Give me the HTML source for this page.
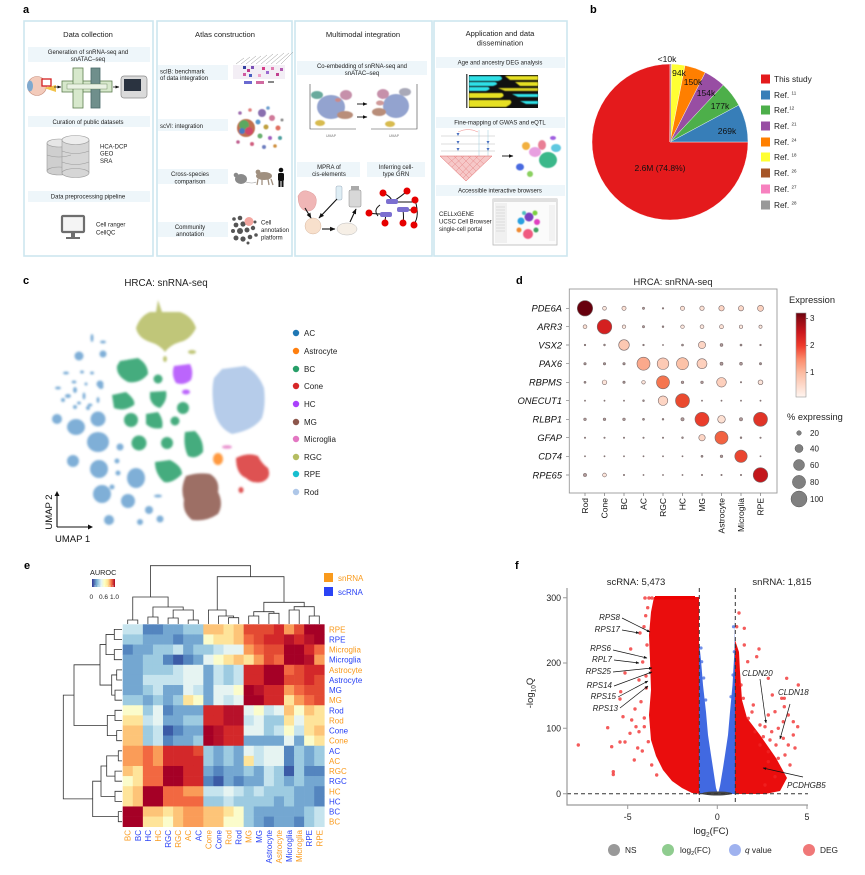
<!DOCTYPE html>
<html><head><meta charset="utf-8">
<style>
html,body{margin:0;padding:0;background:#fff;}
svg{display:block;font-family:"Liberation Sans",Arial,sans-serif;}
#hm .a{fill:#3b5ba6}#hm .b{fill:#5485bf}#hm .c{fill:#74a7d1}#hm .d{fill:#9dcbe1}#hm .e{fill:#c6e4ee}
#hm .f{fill:#e6f4f2}#hm .g{fill:#fbfccb}#hm .h{fill:#fee49a}#hm .i{fill:#fdc478}#hm .j{fill:#fa9c58}
#hm .k{fill:#f26841}#hm .l{fill:#e34a33}#hm .m{fill:#d3282a}#hm .n{fill:#b7112a}#hm .o{fill:#a50026}
.t6{font-size:6px;fill:#222}
.ttl{font-size:7.6px;fill:#222}
</style></head><body>
<svg width="865" height="875" viewBox="0 0 865 875" xmlns="http://www.w3.org/2000/svg">
<defs>
<filter id="bl" x="-30%" y="-30%" width="160%" height="160%"><feGaussianBlur stdDeviation="1.1"/></filter>
<filter id="bls" x="-30%" y="-30%" width="160%" height="160%"><feGaussianBlur stdDeviation="0.5"/></filter>
<linearGradient id="reds" x1="0" y1="1" x2="0" y2="0">
<stop offset="0" stop-color="#fff5f0"/><stop offset="0.29" stop-color="#fcbba1"/><stop offset="0.45" stop-color="#fc8a6a"/><stop offset="0.61" stop-color="#ef3b2c"/><stop offset="0.77" stop-color="#cb181d"/><stop offset="0.94" stop-color="#8b0a14"/><stop offset="1" stop-color="#67000d"/>
</linearGradient>
<linearGradient id="rdyl" x1="0" y1="0" x2="1" y2="0">
<stop offset="0" stop-color="#313695"/><stop offset="0.2" stop-color="#74add1"/><stop offset="0.4" stop-color="#e0f3f8"/><stop offset="0.55" stop-color="#ffffbf"/><stop offset="0.7" stop-color="#fee090"/><stop offset="0.85" stop-color="#f46d43"/><stop offset="1" stop-color="#a50026"/>
</linearGradient>
<marker id="ah" viewBox="0 0 10 10" refX="9" refY="5" markerWidth="5" markerHeight="5" orient="auto"><path d="M0,1 L10,5 L0,9 z" fill="#111"/></marker>
<rect id="s" width="1.03" height="1.03"/>
</defs>

<!-- ================= PANEL A ================= -->
<text x="23" y="13" font-size="11" font-weight="bold" fill="#000">a</text>
<g fill="#fff" stroke="#cde6ef" stroke-width="1.6">
<rect x="24" y="21" width="129" height="235"/>
<rect x="157" y="21" width="135" height="235"/>
<rect x="295" y="21" width="137" height="235"/>
<rect x="434" y="21" width="133" height="235"/>
</g>
<g fill="#eef6fa">
<rect x="28" y="47" width="122" height="15"/><rect x="28" y="116" width="122" height="11"/><rect x="28" y="191" width="122" height="11"/>
<rect x="158" y="65" width="70" height="15"/><rect x="158" y="119" width="70" height="12"/><rect x="158" y="169" width="70" height="15"/><rect x="158" y="222" width="70" height="15"/>
<rect x="297" y="61" width="130" height="14"/><rect x="297" y="162" width="63" height="15"/><rect x="367" y="162" width="58" height="15"/>
<rect x="436" y="57" width="129" height="11"/><rect x="436" y="117" width="129" height="11"/><rect x="436" y="185" width="129" height="11"/>
</g>
<g class="ttl" text-anchor="middle">
<text x="88" y="37" class="ttl">Data collection</text>
<text x="225" y="37" class="ttl">Atlas construction</text>
<text x="363" y="37" class="ttl">Multimodal integration</text>
<text x="500" y="36" class="ttl">Application and data</text>
<text x="500" y="45.5" class="ttl">dissemination</text>
</g>
<g class="t6" text-anchor="middle">
<text x="88" y="54">Generation of snRNA-seq and</text>
<text x="88" y="61">snATAC–seq</text>
<text x="88" y="124">Curation of public datasets</text>
<text x="88" y="198.5">Data preprocessing pipeline</text>
<text x="190" y="176">Cross-species</text>
<text x="190" y="183.5">comparison</text>
<text x="190" y="229">Community</text>
<text x="190" y="236">annotation</text>
<text x="362" y="68">Co-embedding of snRNA-seq and</text>
<text x="362" y="75">snATAC–seq</text>
<text x="329" y="169">MPRA of</text>
<text x="329" y="176">cis-elements</text>
<text x="396" y="169">Inferring cell-</text>
<text x="396" y="176">type GRN</text>
<text x="500" y="64.5">Age and ancestry DEG analysis</text>
<text x="500" y="124.5">Fine-mapping of  GWAS and eQTL</text>
<text x="500" y="192.5">Accessible interactive browsers</text>
</g>
<g class="t6">
<text x="160" y="73.5">scIB: benchmark</text>
<text x="160" y="80">of data integration</text>
<text x="160" y="128">scVI: integration</text>
<text x="100" y="148.5">HCA-DCP</text>
<text x="100" y="155.5">GEO</text>
<text x="100" y="163">SRA</text>
<text x="96" y="226.5">Cell ranger</text>
<text x="96" y="234.5">CellQC</text>
<text x="261" y="224.5">Cell</text>
<text x="261" y="232">annotation</text>
<text x="261" y="239.5">platform</text>
<text x="439" y="216">CELLxGENE</text>
<text x="439" y="223.5">UCSC Cell Browser</text>
<text x="439" y="231">single-cell portal</text>
</g>
<!-- col1 images -->
<circle cx="37" cy="86" r="9.5" fill="#f3cbbb" stroke="#c58a78" stroke-width=".6"/>
<ellipse cx="30" cy="86" rx="3" ry="5.5" fill="#7fa9cf"/>
<path d="M44,88 L56,85 L56,92 Z" fill="#f2c24a"/>
<rect x="42" y="79" width="9" height="7" fill="#fff" stroke="#d42020" stroke-width="1.3"/>
<line x1="54" y1="87" x2="61" y2="87" stroke="#222" stroke-width=".8" marker-end="url(#ah)"/>
<rect x="62" y="81" width="50" height="11" fill="#d7e8cc" stroke="#5d7d4f" stroke-width=".8"/>
<rect x="73" y="68" width="10" height="40" fill="#d7e8cc" stroke="#5d7d4f" stroke-width=".8"/>
<rect x="91" y="68" width="9" height="40" fill="#6f8f8c" stroke="#4a6a6a" stroke-width=".8"/>
<rect x="67" y="84" width="40" height="5" fill="#eaf2e4" stroke="#5d7d4f" stroke-width=".4"/>
<line x1="113" y1="87" x2="119" y2="87" stroke="#222" stroke-width=".8" marker-end="url(#ah)"/>
<rect x="121" y="76" width="26" height="22" rx="3" fill="#dadada" stroke="#8a8a8a" stroke-width=".7"/>
<rect x="124" y="79" width="17" height="12" fill="#2a3340"/>
<g stroke="#9a9a9a" stroke-width=".6">
<rect x="47" y="143" width="24" height="28" fill="#cfcfcf"/><ellipse cx="59" cy="143" rx="12" ry="4" fill="#e6e6e6"/><ellipse cx="59" cy="171" rx="12" ry="4" fill="#cfcfcf"/>
<rect x="62" y="140" width="27" height="33" fill="#d6d6d6"/><ellipse cx="75.5" cy="173" rx="13.5" ry="4.5" fill="#d6d6d6"/><ellipse cx="75.5" cy="140" rx="13.5" ry="4.5" fill="#ededed"/>
<path d="M62,151 Q75.5,156 89,151 M62,162 Q75.5,167 89,162 M47,155 Q59,159 71,155" fill="none"/>
</g>
<rect x="62" y="216" width="22" height="16" rx="1" fill="#f4f4f4" stroke="#6e6e6e" stroke-width="2.2"/>
<rect x="71" y="232" width="4" height="5" fill="#6e6e6e"/><rect x="66" y="237" width="14" height="2" fill="#6e6e6e"/>
<!-- col2 images -->
<g stroke="#999" stroke-width=".5">
<path d="M236,64 l8,-6 M241,64 l9,-7 M246,64 l10,-8 M251,64 l10,-8 M256,64 l11,-9 M261,64 l12,-10 M266,64 l12,-10 M271,64 l13,-11 M276,64 l13,-11 M281,64 l12,-12"/>
</g>
<rect x="233" y="65" width="52" height="14" fill="#f3eef5"/>
<g>
<rect x="243" y="66" width="3" height="3" fill="#3340a0"/><rect x="247" y="69" width="3" height="3" fill="#c03a8c"/><rect x="251" y="66" width="3" height="3" fill="#7a4fb5"/>
<rect x="243" y="73" width="3" height="3" fill="#d05aa0"/><rect x="249" y="74" width="3" height="3" fill="#4a60c0"/><rect x="262" y="67" width="3" height="3" fill="#d43c86"/>
<rect x="266" y="71" width="3" height="3" fill="#9a6ad0"/><rect x="271" y="67" width="3" height="3" fill="#e07ab0"/><rect x="276" y="73" width="3" height="3" fill="#c24090"/>
<rect x="258" y="74" width="3" height="3" fill="#f0a0c8"/><rect x="280" y="68" width="3" height="3" fill="#b05ab0"/>
</g>
<rect x="244" y="81" width="8" height="3" fill="#6a6ad0"/><rect x="256" y="81" width="8" height="3" fill="#d06aa0"/><rect x="268" y="81" width="6" height="2" fill="#888"/>
<g filter="url(#bls)">
<circle cx="246" cy="128" r="9" fill="#c07050"/><circle cx="244" cy="125" r="5" fill="#5aa860"/><circle cx="249" cy="131" r="4" fill="#d04a6a"/><circle cx="242" cy="131" r="3" fill="#4a7ac0"/>
<circle cx="262" cy="113" r="4" fill="#8a70b0"/><circle cx="272" cy="118" r="3" fill="#d07a9a"/><circle cx="258" cy="122" r="2.5" fill="#5a9ad0"/><circle cx="266" cy="127" r="2.5" fill="#c0a040"/>
<circle cx="278" cy="128" r="2.5" fill="#e07060"/><circle cx="260" cy="136" r="2.5" fill="#6ab070"/><circle cx="270" cy="138" r="2" fill="#a060c0"/><circle cx="280" cy="138" r="2" fill="#50a0a0"/>
<circle cx="252" cy="144" r="2" fill="#d06080"/><circle cx="264" cy="147" r="2" fill="#7080c0"/><circle cx="275" cy="146" r="1.8" fill="#d09040"/><circle cx="240" cy="113" r="1.8" fill="#a070b0"/>
<circle cx="250" cy="110" r="1.8" fill="#e08080"/><circle cx="268" cy="108" r="1.8" fill="#70a0d0"/><circle cx="238" cy="142" r="1.8" fill="#c06090"/><circle cx="282" cy="120" r="1.5" fill="#8a8a8a"/>
</g>
<g fill="#8a8a8a">
<ellipse cx="241" cy="179" rx="6" ry="5"/><circle cx="236" cy="175" r="2.3"/><path d="M246,182 Q252,184 256,182" stroke="#9a9a9a" stroke-width=".6" fill="none"/>
<ellipse cx="264" cy="176" rx="8" ry="4" fill="#a09080"/><circle cx="258" cy="172" r="2.4" fill="#a09080"/><path d="M258,179 l-1,6 M262,179 l0,6 M268,179 l1,6 M271,179 l2,6" stroke="#a09080" stroke-width="1.3"/>
</g>
<g fill="#111"><circle cx="281" cy="170" r="2.3"/><rect x="278" y="173" width="6" height="8" rx="1.5"/><rect x="278.5" y="180" width="2" height="7"/><rect x="281.5" y="180" width="2" height="7"/></g>
<g fill="#555">
<circle cx="234" cy="219" r="1.8"/><circle cx="240" cy="218" r="2.3"/><circle cx="236" cy="225" r="2.4"/><circle cx="243" cy="224" r="2.6"/><circle cx="233" cy="231" r="2"/>
<circle cx="240" cy="231" r="3"/><circle cx="247" cy="230" r="2.5"/><circle cx="253" cy="228" r="2.2"/><circle cx="236" cy="238" r="2.5"/><circle cx="243" cy="239" r="2.6"/>
<circle cx="250" cy="237" r="2.3"/><circle cx="256" cy="235" r="1.8"/><circle cx="255" cy="222" r="1.5"/><circle cx="248" cy="243" r="1.5"/>
</g>
<circle cx="249" cy="221.5" r="4.5" fill="#f3a6a0"/>
<!-- col3 images -->
<g stroke="#444" stroke-width=".6" fill="none"><path d="M310,84 V129 H356"/><path d="M417,84 V129 H371"/></g>
<g filter="url(#bls)">
<ellipse cx="331" cy="107" rx="14" ry="12" fill="#93a3cf"/><ellipse cx="317" cy="95" rx="6" ry="4" fill="#6aaa9d"/><ellipse cx="346" cy="95" rx="6" ry="5" fill="#c690aa"/>
<ellipse cx="345" cy="115" rx="8" ry="4" fill="#b98e7a"/><ellipse cx="320" cy="123" rx="5" ry="3" fill="#d8bb50"/><ellipse cx="338" cy="100" rx="3" ry="2" fill="#c98a8a"/>
<ellipse cx="396" cy="106" rx="13" ry="12" fill="#93a3cf"/><ellipse cx="383" cy="94" rx="6" ry="5" fill="#c690aa"/><ellipse cx="405" cy="92" rx="6" ry="4" fill="#a9a9b8"/>
<ellipse cx="379" cy="112" rx="7" ry="4" fill="#b98e7a"/><ellipse cx="390" cy="124" rx="5" ry="3" fill="#d8bb50"/><ellipse cx="380" cy="103" rx="4" ry="2.5" fill="#d09a9a"/>
</g>
<line x1="357" y1="104" x2="367" y2="104" stroke="#111" stroke-width=".9" marker-end="url(#ah)"/>
<line x1="357" y1="117" x2="367" y2="117" stroke="#111" stroke-width=".9" marker-end="url(#ah)"/>
<text x="331" y="137" font-size="3.5" fill="#777" text-anchor="middle">UMAP</text><text x="394" y="137" font-size="3.5" fill="#777" text-anchor="middle">UMAP</text>
<path d="M298,196 q4,-8 12,-4 q8,3 6,12 q-2,8 -10,7 q-8,-2 -8,-15z" fill="#f0b6b6" stroke="#d89090" stroke-width=".4"/>
<circle cx="313" cy="226" r="8" fill="#f8e0cc" stroke="#d8b8a0" stroke-width=".5"/>
<rect x="336" y="186" width="6" height="14" rx="1.5" fill="#dfeef5" stroke="#9ab" stroke-width=".5"/>
<rect x="349" y="190" width="12" height="17" rx="1.5" fill="#d8d8d8" stroke="#888" stroke-width=".5"/><rect x="351" y="186" width="8" height="4" fill="#aaa"/>
<ellipse cx="347" cy="229" rx="10" ry="6" fill="#f6efe6" stroke="#bbb" stroke-width=".5"/>
<g stroke="#111" stroke-width="1.1" marker-end="url(#ah)">
<line x1="305" y1="208" x2="311" y2="218"/><line x1="337" y1="199" x2="319" y2="218"/><line x1="322" y1="229" x2="335" y2="229"/><line x1="350" y1="222" x2="356" y2="209"/>
</g>
<g fill="none" stroke="#111" stroke-width="1">
<path d="M383,193 Q392,197 392,202"/><path d="M392,202 Q402,196 407,191"/><path d="M392,202 H413"/><path d="M403,210 L414,210"/><path d="M386,214 Q372,214 369,213"/>
<path d="M386,214 Q385,220 385,223"/><path d="M403,210 Q404,218 403,223"/><path d="M414,224 Q420,216 415,200"/><path d="M380,205 Q373,210 378,216"/>
</g>
<g fill="#e60000"><circle cx="383" cy="193" r="3.5"/><circle cx="407" cy="191" r="3.5"/><circle cx="415" cy="200" r="3.5"/><circle cx="414" cy="210" r="3.5"/><circle cx="369" cy="213" r="3.5"/><circle cx="385" cy="223" r="3.5"/><circle cx="403" cy="223" r="3.5"/><circle cx="414" cy="225" r="3.5"/></g>
<g fill="#7b6fd0"><rect x="386" y="199" width="12" height="5" rx="2"/><rect x="397" y="207" width="12" height="5" rx="2"/><rect x="380" y="212" width="12" height="5" rx="2"/></g>
<!-- col4 images -->
<rect x="466" y="74" width="1.5" height="34" fill="#555"/>
<rect x="469" y="75" width="69" height="33" fill="#111"/>
<g filter="url(#bls)">
<path d="M469,76 H500 Q505,79 498,81 H469Z" fill="#2ee0e6"/><path d="M505,76 H538 V80 H510Z" fill="#e6e020"/>
<path d="M469,82 H495 Q500,84 493,86 H469Z" fill="#2ee0e6"/><path d="M515,82 H538 V86 H520Z" fill="#e6e020"/>
<path d="M469,87 H488 Q492,89 486,91 H469Z" fill="#2ee0e6"/><path d="M498,88 H538 V91 H505Z" fill="#d8d020"/>
<path d="M469,93 H502 Q506,96 500,98 H469Z" fill="#e6e020"/><path d="M512,94 H538 V97 H518Z" fill="#2ee0e6"/>
<path d="M469,100 H510 Q514,103 506,107 H469Z" fill="#e6e020"/><path d="M520,101 H538 V104 H526Z" fill="#2ee0e6"/>
</g>
<g stroke="#bbb" stroke-width=".5"><line x1="441" y1="136" x2="495" y2="136"/><line x1="441" y1="144" x2="495" y2="144"/><line x1="441" y1="151" x2="495" y2="151"/><line x1="479" y1="130" x2="479" y2="156" stroke="#9cd"/><line x1="488" y1="130" x2="488" y2="156" stroke="#9cd"/></g>
<path d="M458,132 Q468,127 478,132" fill="none" stroke="#e88" stroke-width=".5"/>
<g fill="#4a70c0"><path d="M458,136 l-1.5,-3 h3z"/><path d="M458,144 l-1.5,-3 h3z"/><path d="M458,151 l-1.5,-3 h3z"/><path d="M488,144 l-1.5,-3 h3z"/><path d="M488,151 l-1.5,-3 h3z"/></g>
<path d="M440,156 H492 L466,181 Z" fill="#f6c8c8" stroke="#e06060" stroke-width=".5"/>
<g stroke="#e07070" stroke-width=".35"><path d="M447,156 L469,178 M454,156 L472,175 M461,156 L476,171 M468,156 L480,167 M475,156 L484,164 M485,156 L463,178 M478,156 L460,175 M471,156 L456,171 M464,156 L452,167 M457,156 L448,164"/></g>
<line x1="502" y1="156" x2="513" y2="156" stroke="#111" stroke-width=".9" marker-end="url(#ah)"/>
<g filter="url(#bls)">
<ellipse cx="526" cy="146" rx="4" ry="4" fill="#f2b040"/><ellipse cx="535" cy="152" rx="6" ry="5" fill="#e8a0e0"/><ellipse cx="520" cy="167" rx="4" ry="3.5" fill="#4a6ae0"/>
<ellipse cx="548" cy="160" rx="9" ry="8" fill="#3ab88a"/><ellipse cx="556" cy="148" rx="5" ry="4" fill="#60c8e0"/><ellipse cx="553" cy="138" rx="3" ry="2" fill="#a060e0"/><ellipse cx="530" cy="174" rx="3" ry="3" fill="#8ad060"/><ellipse cx="542" cy="145" rx="4" ry="5" fill="#e04a6a" opacity=".7"/>
</g>
<rect x="493" y="199" width="64" height="46" fill="#fbfbfb" stroke="#b8b8b8" stroke-width=".8"/>
<rect x="493" y="199" width="64" height="3" fill="#e0e0e0"/><rect x="495" y="203" width="12" height="40" fill="#f0f0f0"/>
<g stroke="#c8c8c8" stroke-width=".5"><path d="M496,207h9M496,210h9M496,213h9M496,216h9M496,219h9M496,222h9M496,225h9M496,228h9M496,231h9"/></g>
<rect x="549" y="205" width="6" height="36" fill="#f2f2f2"/>
<g filter="url(#bls)">
<circle cx="521" cy="221" r="3.5" fill="#2aa0e0"/><circle cx="529" cy="217" r="4.5" fill="#7a40c0"/><circle cx="535" cy="213" r="2.5" fill="#7ad040"/><circle cx="537" cy="222" r="3" fill="#e040c0"/>
<circle cx="524" cy="213" r="2" fill="#50c0c0"/><circle cx="528" cy="234" r="5" fill="#f05a80"/><circle cx="519" cy="230" r="2.5" fill="#f08a30"/><circle cx="536" cy="230" r="2.5" fill="#40a060"/>
</g>

<!-- ================= PANEL B ================= -->
<text x="590" y="13" font-size="11" font-weight="bold" fill="#000">b</text>
<g stroke="#fff" stroke-width=".4">
<path d="M670,142 L748,142 A78,78 0 1 1 670,64 Z" fill="#e41a1c"/>
<path d="M670,142 L670,64 A78,78 0 0 1 670.54,64 Z" fill="#999999"/>
<path d="M670,142 L670.54,64 A78,78 0 0 1 671.09,64 Z" fill="#f781bf"/>
<path d="M670,142 L671.09,64 A78,78 0 0 1 671.63,64 Z" fill="#a65628"/>
<path d="M670,142 L671.63,64 A78,78 0 0 1 685.02,65.46 Z" fill="#ffff33"/>
<path d="M670,142 L685.02,65.46 A78,78 0 0 1 705.29,72.44 Z" fill="#ff7f00"/>
<path d="M670,142 L705.29,72.44 A78,78 0 0 1 723.3,85.05 Z" fill="#984ea3"/>
<path d="M670,142 L723.3,85.05 A78,78 0 0 1 738.74,105.14 Z" fill="#4daf4a"/>
<path d="M670,142 L738.74,105.14 A78,78 0 0 1 748,142 Z" fill="#377eb8"/>
</g>
<line x1="670.5" y1="64" x2="670.5" y2="142" stroke="#9a8aaa" stroke-width=".8"/>
<g font-size="8.5" fill="#111" text-anchor="middle">
<text x="667" y="62">&lt;10k</text>
<text x="679" y="76">94k</text>
<text x="693" y="85">150k</text>
<text x="706" y="96">154k</text>
<text x="720" y="109">177k</text>
<text x="727" y="134">269k</text>
<text x="660" y="171">2.6M (74.8%)</text>
</g>
<g>
<rect x="761" y="74.5" width="9" height="9" fill="#e41a1c"/>
<rect x="761" y="90.5" width="9" height="9" fill="#377eb8"/>
<rect x="761" y="105.5" width="9" height="9" fill="#4daf4a"/>
<rect x="761" y="121.5" width="9" height="9" fill="#984ea3"/>
<rect x="761" y="137.5" width="9" height="9" fill="#ff7f00"/>
<rect x="761" y="152.5" width="9" height="9" fill="#ffff33"/>
<rect x="761" y="168.5" width="9" height="9" fill="#a65628"/>
<rect x="761" y="184.5" width="9" height="9" fill="#f781bf"/>
<rect x="761" y="200.5" width="9" height="9" fill="#999999"/>
</g>
<g font-size="8.3" fill="#222">
<text x="774" y="82">This study</text>
<text x="774" y="98">Ref. <tspan font-size="4.5" dy="-3.5">11</tspan></text>
<text x="774" y="113">Ref.<tspan font-size="4.5" dy="-3.5">12</tspan></text>
<text x="774" y="129">Ref. <tspan font-size="4.5" dy="-3.5">21</tspan></text>
<text x="774" y="145">Ref. <tspan font-size="4.5" dy="-3.5">24</tspan></text>
<text x="774" y="160">Ref. <tspan font-size="4.5" dy="-3.5">18</tspan></text>
<text x="774" y="176">Ref. <tspan font-size="4.5" dy="-3.5">26</tspan></text>
<text x="774" y="192">Ref. <tspan font-size="4.5" dy="-3.5">27</tspan></text>
<text x="774" y="208">Ref. <tspan font-size="4.5" dy="-3.5">28</tspan></text>
</g>

<!-- ================= PANEL C ================= -->
<text x="23" y="284" font-size="11" font-weight="bold" fill="#000">c</text>
<text x="166" y="286" font-size="9.8" fill="#222" text-anchor="middle">HRCA: snRNA-seq</text>
<g filter="url(#bl)">
<!-- RGC -->
<g fill="#b5bd61" opacity=".85">
<path d="M158,300 L162,312 L172,312 L180,312 Q192,316 196,328 Q190,340 180,342 Q170,345 165,352 Q160,345 150,342 Q138,338 136,328 Q140,316 150,312 L156,312 Z"/>
<ellipse cx="192" cy="352" rx="4" ry="2"/><ellipse cx="165" cy="359" rx="2" ry="3"/>
</g>
<!-- Rod -->
<path d="M222,369 L245,366 Q258,372 264,388 Q266,405 262,418 Q254,430 232,434 Q218,428 214,410 Q211,390 214,378 Z" fill="#aec7e8" opacity=".9"/>
<!-- HC -->
<g fill="#aa40fc" opacity=".8"><path d="M174,366 L190,364 Q194,372 191,380 Q184,386 176,383 Q171,375 174,366Z"/><ellipse cx="186" cy="392" rx="4" ry="2.5"/></g>
<!-- BC -->
<g fill="#279e68" opacity=".85">
<path d="M120,361 L138,358 Q148,364 148,374 Q140,384 128,382 Q116,376 117,366Z"/>
<circle cx="158" cy="379" r="4.5"/>
<path d="M112,395 L126,392 Q136,400 134,405 Q124,412 114,408Z"/>
<path d="M150,392 L166,391 Q168,400 160,408 Q152,406 150,398Z"/>
<circle cx="183" cy="408" r="6"/>
<circle cx="131" cy="420" r="7"/>
<path d="M146,414 L158,412 Q164,420 162,428 Q152,430 146,424Z"/>
<circle cx="175" cy="421" r="4.5"/>
<circle cx="139" cy="443" r="7.5"/>
<circle cx="167" cy="443" r="6"/>
<path d="M185,432 L195,431 Q204,440 203,452 Q196,460 188,456 Q183,446 185,432Z"/>
<path d="M155,462 L170,460 Q182,466 182,474 Q172,484 164,482 Q155,474 155,462Z"/>
</g>
<!-- AC -->
<g fill="#3a85c2" opacity=".65">
<circle cx="57" cy="419" r="5"/><ellipse cx="76" cy="427" rx="9" ry="8"/><circle cx="98" cy="419" r="7.5"/><ellipse cx="98" cy="442" rx="11" ry="10"/>
<circle cx="73" cy="461" r="6"/><ellipse cx="99" cy="469" rx="9" ry="9"/><circle cx="102" cy="494" r="9"/><ellipse cx="136" cy="478" rx="9" ry="10"/>
<circle cx="128" cy="501" r="7"/><circle cx="109" cy="520" r="5"/><circle cx="149" cy="510" r="4"/><circle cx="160" cy="519" r="3.5"/><circle cx="140" cy="522" r="3"/>
<ellipse cx="158" cy="496" rx="4" ry="1.5"/><circle cx="120" cy="447" r="3.5"/><circle cx="117" cy="461" r="2.5"/><circle cx="79" cy="356" r="4.5"/><circle cx="103" cy="354" r="3.5"/>
<circle cx="100" cy="384" r="3.5"/><ellipse cx="92" cy="338" rx="1.5" ry="4"/><ellipse cx="103" cy="342" rx="3" ry="1.5"/><ellipse cx="66" cy="373" rx="3" ry="1.5"/>
<ellipse cx="58" cy="388" rx="3" ry="1.5"/><ellipse cx="68" cy="396" rx="3" ry="2"/><ellipse cx="75" cy="390" rx="2" ry="3"/><ellipse cx="84" cy="396" rx="1.5" ry="3.5"/>
<ellipse cx="82" cy="372" rx="2" ry="1.5"/><ellipse cx="92" cy="373" rx="2" ry="1.5"/><ellipse cx="74" cy="382" rx="2.5" ry="1.5"/><ellipse cx="79" cy="403" rx="2" ry="1.5"/>
<ellipse cx="90" cy="405" rx="2.5" ry="1.5"/><ellipse cx="98" cy="400" rx="1.5" ry="3"/><ellipse cx="101" cy="387" rx="2.5" ry="2"/><ellipse cx="75" cy="407" rx="2" ry="2"/>
<circle cx="112" cy="487" r="2.5"/><circle cx="118" cy="473" r="2.5"/><circle cx="88" cy="408" r="2"/><circle cx="63" cy="400" r="2"/><circle cx="86" cy="384" r="1.5"/>
</g>
<!-- MG -->
<path d="M186,476 Q198,472 210,474 Q220,480 218,492 Q224,504 218,514 Q206,522 192,520 Q182,512 184,500 Q180,488 186,476Z" fill="#8c564b" opacity=".85"/>
<!-- Cone -->
<g fill="#d62728" opacity=".8"><path d="M236,458 Q248,452 258,456 Q262,464 268,468 Q272,478 262,482 Q252,484 246,478 Q236,474 236,458Z"/><ellipse cx="241" cy="490" rx="2.5" ry="3"/></g>
<!-- Astro, Microglia -->
<ellipse cx="218" cy="459" rx="5" ry="6" fill="#ff7f0e" opacity=".8"/>
<ellipse cx="227" cy="447" rx="5" ry="1.8" fill="#e377c2" opacity=".8"/>
</g>
<g stroke="#111" stroke-width="1.1" fill="none"><path d="M57,527 V495"/><path d="M57,527 H89"/></g>
<path d="M57,491 l-2.5,5 h5z M93,527 l-5,-2.5 v5z" fill="#111"/>
<text x="52" y="512" font-size="9.5" fill="#111" text-anchor="middle" transform="rotate(-90 52 512)">UMAP 2</text>
<text x="55" y="542" font-size="9.5" fill="#111">UMAP 1</text>
<g font-size="8" fill="#222">
<circle cx="296" cy="333" r="3.2" fill="#1f77b4"/><text x="304" y="336">AC</text>
<circle cx="296" cy="351" r="3.2" fill="#ff7f0e"/><text x="304" y="354">Astrocyte</text>
<circle cx="296" cy="369" r="3.2" fill="#279e68"/><text x="304" y="372">BC</text>
<circle cx="296" cy="386" r="3.2" fill="#d62728"/><text x="304" y="389">Cone</text>
<circle cx="296" cy="404" r="3.2" fill="#aa40fc"/><text x="304" y="407">HC</text>
<circle cx="296" cy="422" r="3.2" fill="#8c564b"/><text x="304" y="425">MG</text>
<circle cx="296" cy="439" r="3.2" fill="#e377c2"/><text x="304" y="442">Microglia</text>
<circle cx="296" cy="457" r="3.2" fill="#b5bd61"/><text x="304" y="460">RGC</text>
<circle cx="296" cy="474" r="3.2" fill="#17becf"/><text x="304" y="477">RPE</text>
<circle cx="296" cy="492" r="3.2" fill="#aec7e8"/><text x="304" y="495">Rod</text>
</g>

<!-- ================= PANEL D ================= -->
<text x="516" y="284" font-size="11" font-weight="bold" fill="#000">d</text>
<text x="673" y="285" font-size="9.3" fill="#222" text-anchor="middle">HRCA: snRNA-seq</text>
<rect x="569.3" y="289" width="207.7" height="204" fill="#fff" stroke="#9a9a9a" stroke-width=".9"/>
<g stroke="#777" stroke-width=".7">
<path d="M566,308.3h3M566,326.7h3M566,345h3M566,363.7h3M566,382.3h3M566,400.7h3M566,419.3h3M566,437.7h3M566,456.3h3M566,475h3"/>
<path d="M585,493v3M604.5,493v3M624,493v3M643.5,493v3M663,493v3M682.5,493v3M702,493v3M721.5,493v3M741,493v3M760.5,493v3"/>
</g>
<g font-size="9.3" font-style="italic" fill="#111" text-anchor="end">
<text x="562" y="311.5">PDE6A</text><text x="562" y="330">ARR3</text><text x="562" y="348.3">VSX2</text><text x="562" y="367">PAX6</text>
<text x="562" y="385.6">RBPMS</text><text x="562" y="404">ONECUT1</text><text x="562" y="422.6">RLBP1</text><text x="562" y="441">GFAP</text>
<text x="562" y="459.6">CD74</text><text x="562" y="478.3">RPE65</text>
</g>
<g font-size="8.5" fill="#111" text-anchor="end">
<text transform="translate(588,498) rotate(-90)">Rod</text>
<text transform="translate(607.5,498) rotate(-90)">Cone</text>
<text transform="translate(627,498) rotate(-90)">BC</text>
<text transform="translate(646.5,498) rotate(-90)">AC</text>
<text transform="translate(666,498) rotate(-90)">RGC</text>
<text transform="translate(685.5,498) rotate(-90)">HC</text>
<text transform="translate(705,498) rotate(-90)">MG</text>
<text transform="translate(724.5,498) rotate(-90)">Astrocyte</text>
<text transform="translate(744,498) rotate(-90)">Microglia</text>
<text transform="translate(763.5,498) rotate(-90)">RPE</text>
</g>
<g stroke="#7a6a6a" stroke-width=".6">
<!-- PDE6A y308.3 -->
<circle cx="585" cy="308.3" r="7.7" fill="#67000d"/><circle cx="604.5" cy="308.3" r="1.9" fill="#fde8de"/><circle cx="624" cy="308.3" r="2.1" fill="#fde2d5"/><circle cx="643.5" cy="308.3" r="1.1" fill="#b09a9a"/><circle cx="663" cy="308.3" r=".8" fill="#a09090"/><circle cx="682.5" cy="308.3" r="2.1" fill="#fde2d5"/><circle cx="702" cy="308.3" r="2.2" fill="#fde2d5"/><circle cx="721.5" cy="308.3" r="2.7" fill="#fdd5c4"/><circle cx="741" cy="308.3" r="2.6" fill="#fdd9c9"/><circle cx="760.5" cy="308.3" r="3" fill="#fcd2bf"/>
<!-- ARR3 -->
<circle cx="585" cy="326.7" r="1.9" fill="#fde2d5"/><circle cx="604.5" cy="326.7" r="7.3" fill="#d42020"/><circle cx="624" cy="326.7" r="1.8" fill="#fde8de"/><circle cx="643.5" cy="326.7" r="1.1" fill="#b09a9a"/><circle cx="663" cy="326.7" r=".9" fill="#a09090"/><circle cx="682.5" cy="326.7" r="1.8" fill="#fde8de"/><circle cx="702" cy="326.7" r="1.9" fill="#fde8de"/><circle cx="721.5" cy="326.7" r="2" fill="#fde2d5"/><circle cx="741" cy="326.7" r="1.7" fill="#fde8de"/><circle cx="760.5" cy="326.7" r="1.6" fill="#fde8de"/>
<!-- VSX2 -->
<circle cx="585" cy="345" r=".8" fill="#a09090"/><circle cx="604.5" cy="345" r=".9" fill="#a09090"/><circle cx="624" cy="345" r="5.3" fill="#fcc8b2"/><circle cx="643.5" cy="345" r=".8" fill="#a09090"/><circle cx="663" cy="345" r=".6" fill="#a09090"/><circle cx="682.5" cy="345" r="1" fill="#a09090"/><circle cx="702" cy="345" r="3.6" fill="#fdd5c4"/><circle cx="721.5" cy="345" r="1.4" fill="#b09a9a"/><circle cx="741" cy="345" r="1" fill="#a09090"/><circle cx="760.5" cy="345" r=".8" fill="#a09090"/>
<!-- PAX6 -->
<circle cx="585" cy="363.7" r="1.2" fill="#a09090"/><circle cx="604.5" cy="363.7" r="1.2" fill="#a09090"/><circle cx="624" cy="363.7" r="1.2" fill="#a09090"/><circle cx="643.5" cy="363.7" r="6.5" fill="#fba98c"/><circle cx="663" cy="363.7" r="5.8" fill="#fdcab5"/><circle cx="682.5" cy="363.7" r="6" fill="#fcc2a8"/><circle cx="702" cy="363.7" r="5" fill="#fdd0bd"/><circle cx="721.5" cy="363.7" r="1.5" fill="#b09a9a"/><circle cx="741" cy="363.7" r="1.4" fill="#b09a9a"/><circle cx="760.5" cy="363.7" r="1.1" fill="#a09090"/>
<!-- RBPMS -->
<circle cx="585" cy="382.3" r="1" fill="#a09090"/><circle cx="604.5" cy="382.3" r="2.3" fill="#fde5da"/><circle cx="624" cy="382.3" r="1.2" fill="#a09090"/><circle cx="643.5" cy="382.3" r="1.8" fill="#fde5da"/><circle cx="663" cy="382.3" r="6.5" fill="#f5754f"/><circle cx="682.5" cy="382.3" r="1.3" fill="#b09a9a"/><circle cx="702" cy="382.3" r="1.3" fill="#b09a9a"/><circle cx="721.5" cy="382.3" r="4.8" fill="#fdd0bd"/><circle cx="741" cy="382.3" r=".7" fill="#a09090"/><circle cx="760.5" cy="382.3" r="2.4" fill="#fde5da"/>
<!-- ONECUT1 -->
<circle cx="585" cy="400.7" r=".6" fill="#a09090"/><circle cx="604.5" cy="400.7" r=".6" fill="#a09090"/><circle cx="624" cy="400.7" r=".6" fill="#a09090"/><circle cx="643.5" cy="400.7" r=".9" fill="#a09090"/><circle cx="663" cy="400.7" r="4.8" fill="#fdd5c4"/><circle cx="682.5" cy="400.7" r="7" fill="#ea4a2f"/><circle cx="702" cy="400.7" r=".6" fill="#a09090"/><circle cx="721.5" cy="400.7" r=".6" fill="#a09090"/><circle cx="741" cy="400.7" r=".6" fill="#a09090"/><circle cx="760.5" cy="400.7" r=".6" fill="#a09090"/>
<!-- RLBP1 -->
<circle cx="585" cy="419.3" r="1.3" fill="#b09a9a"/><circle cx="604.5" cy="419.3" r="1.3" fill="#b09a9a"/><circle cx="624" cy="419.3" r="1.3" fill="#b09a9a"/><circle cx="643.5" cy="419.3" r="1" fill="#a09090"/><circle cx="663" cy="419.3" r=".9" fill="#a09090"/><circle cx="682.5" cy="419.3" r="1.6" fill="#b09a9a"/><circle cx="702" cy="419.3" r="7" fill="#ea3d2b"/><circle cx="721.5" cy="419.3" r="3.8" fill="#fde0d2"/><circle cx="741" cy="419.3" r="1.6" fill="#b09a9a"/><circle cx="760.5" cy="419.3" r="7" fill="#e03427"/>
<!-- GFAP -->
<circle cx="585" cy="437.7" r=".7" fill="#a09090"/><circle cx="604.5" cy="437.7" r=".7" fill="#a09090"/><circle cx="624" cy="437.7" r=".7" fill="#a09090"/><circle cx="643.5" cy="437.7" r=".7" fill="#a09090"/><circle cx="663" cy="437.7" r=".7" fill="#a09090"/><circle cx="682.5" cy="437.7" r=".9" fill="#a09090"/><circle cx="702" cy="437.7" r="3.2" fill="#fdd5c4"/><circle cx="721.5" cy="437.7" r="6.5" fill="#f26241"/><circle cx="741" cy="437.7" r=".9" fill="#a09090"/><circle cx="760.5" cy="437.7" r=".7" fill="#a09090"/>
<!-- CD74 -->
<circle cx="585" cy="456.3" r=".6" fill="#a09090"/><circle cx="604.5" cy="456.3" r=".6" fill="#a09090"/><circle cx="624" cy="456.3" r=".6" fill="#a09090"/><circle cx="643.5" cy="456.3" r=".6" fill="#a09090"/><circle cx="663" cy="456.3" r=".6" fill="#a09090"/><circle cx="682.5" cy="456.3" r=".6" fill="#a09090"/><circle cx="702" cy="456.3" r="1" fill="#a09090"/><circle cx="721.5" cy="456.3" r="1.3" fill="#b09a9a"/><circle cx="741" cy="456.3" r="6.2" fill="#ea4530"/><circle cx="760.5" cy="456.3" r=".6" fill="#a09090"/>
<!-- RPE65 -->
<circle cx="585" cy="475" r="1.6" fill="#b09a9a"/><circle cx="604.5" cy="475" r="1.9" fill="#fde5da"/><circle cx="624" cy="475" r=".7" fill="#a09090"/><circle cx="643.5" cy="475" r=".6" fill="#a09090"/><circle cx="663" cy="475" r=".6" fill="#a09090"/><circle cx="682.5" cy="475" r=".6" fill="#a09090"/><circle cx="702" cy="475" r=".7" fill="#a09090"/><circle cx="721.5" cy="475" r=".7" fill="#a09090"/><circle cx="741" cy="475" r=".7" fill="#a09090"/><circle cx="760.5" cy="475" r="7.3" fill="#c3161b"/>
</g>
<text x="789" y="303" font-size="9.3" fill="#222">Expression</text>
<rect x="796" y="313" width="10" height="84" fill="url(#reds)" stroke="#999" stroke-width=".6"/>
<g stroke="#333" stroke-width=".6"><path d="M806,318.4h2M806,345.5h2M806,372.6h2"/></g>
<g font-size="8" fill="#222"><text x="810" y="321">3</text><text x="810" y="348">2</text><text x="810" y="375">1</text></g>
<text x="787" y="420" font-size="9.3" fill="#222">% expressing</text>
<g fill="#808080" stroke="#555" stroke-width=".5">
<circle cx="799" cy="433" r="2.3"/><circle cx="799" cy="448.5" r="4"/><circle cx="799" cy="465" r="5.5"/><circle cx="799" cy="482" r="6.6"/><circle cx="799" cy="499" r="8"/>
</g>
<g font-size="8" fill="#222"><text x="810" y="436">20</text><text x="810" y="451.5">40</text><text x="810" y="468">60</text><text x="810" y="485">80</text><text x="810" y="502">100</text></g>

<!-- ================= PANEL E ================= -->
<text x="24" y="569" font-size="11" font-weight="bold" fill="#000">e</text>
<text x="90" y="575" font-size="7.3" fill="#222">AUROC</text>
<rect x="92" y="579" width="23" height="8" fill="url(#rdyl)"/>
<g stroke="#fff" stroke-width=".4"><path d="M95,585v2M98,585v2M101,585v2M104,585v2M107,585v2M110,585v2M113,585v2"/></g>
<g font-size="6.5" fill="#222"><text x="89.5" y="599">0</text><text x="99" y="599">0.6</text><text x="110" y="599">1.0</text></g>
<rect x="324" y="573" width="9" height="9" fill="#f99a1c"/><text x="338" y="581" font-size="8" fill="#f99a1c">snRNA</text>
<rect x="324" y="587" width="9" height="9" fill="#2a43f5"/><text x="338" y="595" font-size="8" fill="#2a43f5">scRNA</text>
<g fill="none" stroke="#333" stroke-width=".8">
<!-- top dendrogram -->
<path d="M127.7,624V620H137.8V624"/><path d="M147.9,624V617H158V624"/><path d="M168.1,624V618H178.2V624"/><path d="M188.2,624V620H198.3V624"/>
<path d="M173.15,618V610H193.25V620"/><path d="M152.95,617V607H183.2V610"/><path d="M132.75,620V597H168.1V607"/>
<path d="M228.6,624V617.7H238.7V624"/><path d="M218.5,624V616H233.65V617.7"/><path d="M208.4,624V610H226.1V616"/>
<path d="M248.7,624V616H258.8V624"/><path d="M268.9,624V613.3H279V624"/><path d="M253.75,616V611.7H273.95V613.3"/>
<path d="M289.1,624V610H299.2V624"/><path d="M309.2,624V616H319.3V624"/><path d="M294.15,610V606.7H314.25V616"/><path d="M263.85,611.7V602.3H304.2V606.7"/>
<path d="M217.25,610V576.7H284V602.3"/><path d="M150.4,597V565.7H250.6V576.7"/>
<!-- left dendrogram -->
<path d="M122,629.4H114.3V639.5H122"/><path d="M122,649.6H114.3V659.7H122"/><path d="M114.3,634.45H106V654.65H114.3"/>
<path d="M122,669.9H116.7V680H122"/><path d="M122,690.1H115V700.2H122"/><path d="M116.7,674.95H111.7V695.15H115"/><path d="M106,644.55H100V685.05H111.7"/>
<path d="M122,710.3H115V720.5H122"/><path d="M122,730.6H116.7V740.7H122"/><path d="M115,715.4H107.3V735.65H116.7"/><path d="M100,664.8H74V725.5H107.3"/>
<path d="M122,750.8H118.3V760.9H122"/><path d="M122,771.1H115V781.2H122"/><path d="M118.3,755.85H106.7V776.15H115"/>
<path d="M122,791.3H115V801.4H122"/><path d="M106.7,766H101V796.35H115"/><path d="M122,811.6H118.3V821.7H122"/><path d="M101,781.2H92.7V816.65H118.3"/>
<path d="M74,695.15H63.3V798.9H92.7"/>
</g>
<g id="hm" transform="translate(122.7,624.3) scale(10.08,10.12)">
<g><use href="#s" x="0" class="e"/><use href="#s" x="1" class="e"/><use href="#s" x="2" class="b"/><use href="#s" x="3" class="b"/><use href="#s" x="4" class="c"/><use href="#s" x="5" class="c"/><use href="#s" x="6" class="d"/><use href="#s" x="7" class="d"/><use href="#s" x="8" class="i"/><use href="#s" x="9" class="i"/><use href="#s" x="10" class="h"/><use href="#s" x="11" class="i"/><use href="#s" x="12" class="l"/><use href="#s" x="13" class="l"/><use href="#s" x="14" class="l"/><use href="#s" x="15" class="m"/><use href="#s" x="16" class="j"/><use href="#s" x="17" class="l"/><use href="#s" x="18" class="o"/><use href="#s" x="19" class="o"/></g>
<g transform="translate(0,1)"><use href="#s" x="0" class="d"/><use href="#s" x="1" class="d"/><use href="#s" x="2" class="c"/><use href="#s" x="3" class="c"/><use href="#s" x="4" class="c"/><use href="#s" x="5" class="b"/><use href="#s" x="6" class="c"/><use href="#s" x="7" class="c"/><use href="#s" x="8" class="g"/><use href="#s" x="9" class="h"/><use href="#s" x="10" class="h"/><use href="#s" x="11" class="i"/><use href="#s" x="12" class="k"/><use href="#s" x="13" class="l"/><use href="#s" x="14" class="m"/><use href="#s" x="15" class="m"/><use href="#s" x="16" class="n"/><use href="#s" x="17" class="m"/><use href="#s" x="18" class="n"/><use href="#s" x="19" class="o"/></g>
<g transform="translate(0,2)"><use href="#s" x="0" class="b"/><use href="#s" x="1" class="c"/><use href="#s" x="2" class="c"/><use href="#s" x="3" class="d"/><use href="#s" x="4" class="d"/><use href="#s" x="5" class="e"/><use href="#s" x="6" class="c"/><use href="#s" x="7" class="d"/><use href="#s" x="8" class="d"/><use href="#s" x="9" class="e"/><use href="#s" x="10" class="f"/><use href="#s" x="11" class="f"/><use href="#s" x="12" class="j"/><use href="#s" x="13" class="k"/><use href="#s" x="14" class="l"/><use href="#s" x="15" class="l"/><use href="#s" x="16" class="o"/><use href="#s" x="17" class="o"/><use href="#s" x="18" class="m"/><use href="#s" x="19" class="k"/></g>
<g transform="translate(0,3)"><use href="#s" x="0" class="c"/><use href="#s" x="1" class="c"/><use href="#s" x="2" class="d"/><use href="#s" x="3" class="d"/><use href="#s" x="4" class="b"/><use href="#s" x="5" class="a"/><use href="#s" x="6" class="b"/><use href="#s" x="7" class="c"/><use href="#s" x="8" class="f"/><use href="#s" x="9" class="g"/><use href="#s" x="10" class="h"/><use href="#s" x="11" class="i"/><use href="#s" x="12" class="h"/><use href="#s" x="13" class="j"/><use href="#s" x="14" class="l"/><use href="#s" x="15" class="k"/><use href="#s" x="16" class="o"/><use href="#s" x="17" class="o"/><use href="#s" x="18" class="n"/><use href="#s" x="19" class="j"/></g>
<g transform="translate(0,4)"><use href="#s" x="0" class="c"/><use href="#s" x="1" class="c"/><use href="#s" x="2" class="d"/><use href="#s" x="3" class="d"/><use href="#s" x="4" class="d"/><use href="#s" x="5" class="e"/><use href="#s" x="6" class="f"/><use href="#s" x="7" class="f"/><use href="#s" x="8" class="c"/><use href="#s" x="9" class="e"/><use href="#s" x="10" class="d"/><use href="#s" x="11" class="e"/><use href="#s" x="12" class="m"/><use href="#s" x="13" class="m"/><use href="#s" x="14" class="o"/><use href="#s" x="15" class="o"/><use href="#s" x="16" class="k"/><use href="#s" x="17" class="l"/><use href="#s" x="18" class="m"/><use href="#s" x="19" class="m"/></g>
<g transform="translate(0,5)"><use href="#s" x="0" class="c"/><use href="#s" x="1" class="c"/><use href="#s" x="2" class="e"/><use href="#s" x="3" class="e"/><use href="#s" x="4" class="e"/><use href="#s" x="5" class="e"/><use href="#s" x="6" class="f"/><use href="#s" x="7" class="f"/><use href="#s" x="8" class="c"/><use href="#s" x="9" class="e"/><use href="#s" x="10" class="d"/><use href="#s" x="11" class="e"/><use href="#s" x="12" class="m"/><use href="#s" x="13" class="m"/><use href="#s" x="14" class="o"/><use href="#s" x="15" class="o"/><use href="#s" x="16" class="l"/><use href="#s" x="17" class="l"/><use href="#s" x="18" class="m"/><use href="#s" x="19" class="l"/></g>
<g transform="translate(0,6)"><use href="#s" x="0" class="c"/><use href="#s" x="1" class="c"/><use href="#s" x="2" class="d"/><use href="#s" x="3" class="e"/><use href="#s" x="4" class="c"/><use href="#s" x="5" class="c"/><use href="#s" x="6" class="f"/><use href="#s" x="7" class="e"/><use href="#s" x="8" class="c"/><use href="#s" x="9" class="f"/><use href="#s" x="10" class="f"/><use href="#s" x="11" class="g"/><use href="#s" x="12" class="o"/><use href="#s" x="13" class="n"/><use href="#s" x="14" class="m"/><use href="#s" x="15" class="m"/><use href="#s" x="16" class="j"/><use href="#s" x="17" class="k"/><use href="#s" x="18" class="l"/><use href="#s" x="19" class="l"/></g>
<g transform="translate(0,7)"><use href="#s" x="0" class="d"/><use href="#s" x="1" class="d"/><use href="#s" x="2" class="c"/><use href="#s" x="3" class="d"/><use href="#s" x="4" class="c"/><use href="#s" x="5" class="d"/><use href="#s" x="6" class="h"/><use href="#s" x="7" class="g"/><use href="#s" x="8" class="c"/><use href="#s" x="9" class="f"/><use href="#s" x="10" class="e"/><use href="#s" x="11" class="f"/><use href="#s" x="12" class="o"/><use href="#s" x="13" class="o"/><use href="#s" x="14" class="m"/><use href="#s" x="15" class="m"/><use href="#s" x="16" class="h"/><use href="#s" x="17" class="j"/><use href="#s" x="18" class="k"/><use href="#s" x="19" class="l"/></g>
<g transform="translate(0,8)"><use href="#s" x="0" class="g"/><use href="#s" x="1" class="g"/><use href="#s" x="2" class="d"/><use href="#s" x="3" class="f"/><use href="#s" x="4" class="b"/><use href="#s" x="5" class="c"/><use href="#s" x="6" class="c"/><use href="#s" x="7" class="c"/><use href="#s" x="8" class="m"/><use href="#s" x="9" class="m"/><use href="#s" x="10" class="n"/><use href="#s" x="11" class="n"/><use href="#s" x="12" class="f"/><use href="#s" x="13" class="g"/><use href="#s" x="14" class="e"/><use href="#s" x="15" class="f"/><use href="#s" x="16" class="i"/><use href="#s" x="17" class="g"/><use href="#s" x="18" class="i"/><use href="#s" x="19" class="h"/></g>
<g transform="translate(0,9)"><use href="#s" x="0" class="h"/><use href="#s" x="1" class="h"/><use href="#s" x="2" class="e"/><use href="#s" x="3" class="f"/><use href="#s" x="4" class="c"/><use href="#s" x="5" class="c"/><use href="#s" x="6" class="d"/><use href="#s" x="7" class="d"/><use href="#s" x="8" class="m"/><use href="#s" x="9" class="m"/><use href="#s" x="10" class="n"/><use href="#s" x="11" class="n"/><use href="#s" x="12" class="e"/><use href="#s" x="13" class="f"/><use href="#s" x="14" class="d"/><use href="#s" x="15" class="d"/><use href="#s" x="16" class="h"/><use href="#s" x="17" class="f"/><use href="#s" x="18" class="h"/><use href="#s" x="19" class="h"/></g>
<g transform="translate(0,10)"><use href="#s" x="0" class="i"/><use href="#s" x="1" class="i"/><use href="#s" x="2" class="d"/><use href="#s" x="3" class="e"/><use href="#s" x="4" class="a"/><use href="#s" x="5" class="b"/><use href="#s" x="6" class="c"/><use href="#s" x="7" class="c"/><use href="#s" x="8" class="o"/><use href="#s" x="9" class="n"/><use href="#s" x="10" class="m"/><use href="#s" x="11" class="m"/><use href="#s" x="12" class="f"/><use href="#s" x="13" class="f"/><use href="#s" x="14" class="d"/><use href="#s" x="15" class="e"/><use href="#s" x="16" class="g"/><use href="#s" x="17" class="e"/><use href="#s" x="18" class="h"/><use href="#s" x="19" class="i"/></g>
<g transform="translate(0,11)"><use href="#s" x="0" class="i"/><use href="#s" x="1" class="i"/><use href="#s" x="2" class="d"/><use href="#s" x="3" class="e"/><use href="#s" x="4" class="b"/><use href="#s" x="5" class="c"/><use href="#s" x="6" class="c"/><use href="#s" x="7" class="d"/><use href="#s" x="8" class="o"/><use href="#s" x="9" class="n"/><use href="#s" x="10" class="m"/><use href="#s" x="11" class="m"/><use href="#s" x="12" class="c"/><use href="#s" x="13" class="c"/><use href="#s" x="14" class="c"/><use href="#s" x="15" class="c"/><use href="#s" x="16" class="f"/><use href="#s" x="17" class="c"/><use href="#s" x="18" class="g"/><use href="#s" x="19" class="h"/></g>
<g transform="translate(0,12)"><use href="#s" x="0" class="j"/><use href="#s" x="1" class="j"/><use href="#s" x="2" class="k"/><use href="#s" x="3" class="j"/><use href="#s" x="4" class="m"/><use href="#s" x="5" class="m"/><use href="#s" x="6" class="m"/><use href="#s" x="7" class="l"/><use href="#s" x="8" class="d"/><use href="#s" x="9" class="c"/><use href="#s" x="10" class="d"/><use href="#s" x="11" class="c"/><use href="#s" x="12" class="f"/><use href="#s" x="13" class="e"/><use href="#s" x="14" class="f"/><use href="#s" x="15" class="f"/><use href="#s" x="16" class="b"/><use href="#s" x="17" class="d"/><use href="#s" x="18" class="c"/><use href="#s" x="19" class="d"/></g>
<g transform="translate(0,13)"><use href="#s" x="0" class="j"/><use href="#s" x="1" class="j"/><use href="#s" x="2" class="k"/><use href="#s" x="3" class="j"/><use href="#s" x="4" class="m"/><use href="#s" x="5" class="m"/><use href="#s" x="6" class="m"/><use href="#s" x="7" class="m"/><use href="#s" x="8" class="d"/><use href="#s" x="9" class="c"/><use href="#s" x="10" class="d"/><use href="#s" x="11" class="c"/><use href="#s" x="12" class="h"/><use href="#s" x="13" class="e"/><use href="#s" x="14" class="f"/><use href="#s" x="15" class="f"/><use href="#s" x="16" class="b"/><use href="#s" x="17" class="d"/><use href="#s" x="18" class="c"/><use href="#s" x="19" class="d"/></g>
<g transform="translate(0,14)"><use href="#s" x="0" class="i"/><use href="#s" x="1" class="h"/><use href="#s" x="2" class="k"/><use href="#s" x="3" class="k"/><use href="#s" x="4" class="o"/><use href="#s" x="5" class="o"/><use href="#s" x="6" class="m"/><use href="#s" x="7" class="m"/><use href="#s" x="8" class="c"/><use href="#s" x="9" class="b"/><use href="#s" x="10" class="c"/><use href="#s" x="11" class="c"/><use href="#s" x="12" class="d"/><use href="#s" x="13" class="c"/><use href="#s" x="14" class="e"/><use href="#s" x="15" class="d"/><use href="#s" x="16" class="a"/><use href="#s" x="17" class="d"/><use href="#s" x="18" class="b"/><use href="#s" x="19" class="b"/></g>
<g transform="translate(0,15)"><use href="#s" x="0" class="g"/><use href="#s" x="1" class="h"/><use href="#s" x="2" class="k"/><use href="#s" x="3" class="k"/><use href="#s" x="4" class="o"/><use href="#s" x="5" class="o"/><use href="#s" x="6" class="m"/><use href="#s" x="7" class="m"/><use href="#s" x="8" class="b"/><use href="#s" x="9" class="a"/><use href="#s" x="10" class="c"/><use href="#s" x="11" class="b"/><use href="#s" x="12" class="c"/><use href="#s" x="13" class="c"/><use href="#s" x="14" class="e"/><use href="#s" x="15" class="d"/><use href="#s" x="16" class="c"/><use href="#s" x="17" class="d"/><use href="#s" x="18" class="c"/><use href="#s" x="19" class="c"/></g>
<g transform="translate(0,16)"><use href="#s" x="0" class="h"/><use href="#s" x="1" class="i"/><use href="#s" x="2" class="o"/><use href="#s" x="3" class="o"/><use href="#s" x="4" class="k"/><use href="#s" x="5" class="k"/><use href="#s" x="6" class="j"/><use href="#s" x="7" class="j"/><use href="#s" x="8" class="e"/><use href="#s" x="9" class="e"/><use href="#s" x="10" class="f"/><use href="#s" x="11" class="e"/><use href="#s" x="12" class="d"/><use href="#s" x="13" class="e"/><use href="#s" x="14" class="d"/><use href="#s" x="15" class="d"/><use href="#s" x="16" class="d"/><use href="#s" x="17" class="c"/><use href="#s" x="18" class="c"/><use href="#s" x="19" class="b"/></g>
<g transform="translate(0,17)"><use href="#s" x="0" class="h"/><use href="#s" x="1" class="i"/><use href="#s" x="2" class="o"/><use href="#s" x="3" class="o"/><use href="#s" x="4" class="k"/><use href="#s" x="5" class="k"/><use href="#s" x="6" class="k"/><use href="#s" x="7" class="k"/><use href="#s" x="8" class="d"/><use href="#s" x="9" class="d"/><use href="#s" x="10" class="e"/><use href="#s" x="11" class="d"/><use href="#s" x="12" class="d"/><use href="#s" x="13" class="d"/><use href="#s" x="14" class="d"/><use href="#s" x="15" class="c"/><use href="#s" x="16" class="d"/><use href="#s" x="17" class="c"/><use href="#s" x="18" class="c"/><use href="#s" x="19" class="b"/></g>
<g transform="translate(0,18)"><use href="#s" x="0" class="o"/><use href="#s" x="1" class="o"/><use href="#s" x="2" class="i"/><use href="#s" x="3" class="i"/><use href="#s" x="4" class="h"/><use href="#s" x="5" class="i"/><use href="#s" x="6" class="j"/><use href="#s" x="7" class="j"/><use href="#s" x="8" class="i"/><use href="#s" x="9" class="i"/><use href="#s" x="10" class="h"/><use href="#s" x="11" class="g"/><use href="#s" x="12" class="d"/><use href="#s" x="13" class="c"/><use href="#s" x="14" class="c"/><use href="#s" x="15" class="c"/><use href="#s" x="16" class="c"/><use href="#s" x="17" class="c"/><use href="#s" x="18" class="d"/><use href="#s" x="19" class="e"/></g>
<g transform="translate(0,19)"><use href="#s" x="0" class="o"/><use href="#s" x="1" class="o"/><use href="#s" x="2" class="h"/><use href="#s" x="3" class="h"/><use href="#s" x="4" class="g"/><use href="#s" x="5" class="i"/><use href="#s" x="6" class="j"/><use href="#s" x="7" class="j"/><use href="#s" x="8" class="i"/><use href="#s" x="9" class="i"/><use href="#s" x="10" class="g"/><use href="#s" x="11" class="g"/><use href="#s" x="12" class="d"/><use href="#s" x="13" class="c"/><use href="#s" x="14" class="b"/><use href="#s" x="15" class="c"/><use href="#s" x="16" class="c"/><use href="#s" x="17" class="b"/><use href="#s" x="18" class="d"/><use href="#s" x="19" class="e"/></g>
</g>
<g font-size="8">
<text x="329" y="632.4" fill="#f99a1c">RPE</text><text x="329" y="642.5" fill="#2a43f5">RPE</text>
<text x="329" y="652.6" fill="#f99a1c">Microglia</text><text x="329" y="662.7" fill="#2a43f5">Microglia</text>
<text x="329" y="672.9" fill="#f99a1c">Astrocyte</text><text x="329" y="683" fill="#2a43f5">Astrocyte</text>
<text x="329" y="693.1" fill="#2a43f5">MG</text><text x="329" y="703.2" fill="#f99a1c">MG</text>
<text x="329" y="713.3" fill="#2a43f5">Rod</text><text x="329" y="723.5" fill="#f99a1c">Rod</text>
<text x="329" y="733.6" fill="#2a43f5">Cone</text><text x="329" y="743.7" fill="#f99a1c">Cone</text>
<text x="329" y="753.8" fill="#2a43f5">AC</text><text x="329" y="763.9" fill="#f99a1c">AC</text>
<text x="329" y="774.1" fill="#f99a1c">RGC</text><text x="329" y="784.2" fill="#2a43f5">RGC</text>
<text x="329" y="794.3" fill="#f99a1c">HC</text><text x="329" y="804.4" fill="#2a43f5">HC</text>
<text x="329" y="814.6" fill="#2a43f5">BC</text><text x="329" y="824.7" fill="#f99a1c">BC</text>
</g>
<g font-size="8" text-anchor="end">
<text transform="translate(130.7,830) rotate(-90)" fill="#f99a1c">BC</text>
<text transform="translate(140.8,830) rotate(-90)" fill="#2a43f5">BC</text>
<text transform="translate(150.9,830) rotate(-90)" fill="#2a43f5">HC</text>
<text transform="translate(161,830) rotate(-90)" fill="#f99a1c">HC</text>
<text transform="translate(171.1,830) rotate(-90)" fill="#2a43f5">RGC</text>
<text transform="translate(181.2,830) rotate(-90)" fill="#f99a1c">RGC</text>
<text transform="translate(191.2,830) rotate(-90)" fill="#f99a1c">AC</text>
<text transform="translate(201.3,830) rotate(-90)" fill="#2a43f5">AC</text>
<text transform="translate(211.4,830) rotate(-90)" fill="#f99a1c">Cone</text>
<text transform="translate(221.5,830) rotate(-90)" fill="#2a43f5">Cone</text>
<text transform="translate(231.6,830) rotate(-90)" fill="#f99a1c">Rod</text>
<text transform="translate(241.7,830) rotate(-90)" fill="#2a43f5">Rod</text>
<text transform="translate(251.7,830) rotate(-90)" fill="#f99a1c">MG</text>
<text transform="translate(261.8,830) rotate(-90)" fill="#2a43f5">MG</text>
<text transform="translate(271.9,830) rotate(-90)" fill="#2a43f5">Astrocyte</text>
<text transform="translate(282,830) rotate(-90)" fill="#f99a1c">Astrocyte</text>
<text transform="translate(292.1,830) rotate(-90)" fill="#2a43f5">Microglia</text>
<text transform="translate(302.2,830) rotate(-90)" fill="#f99a1c">Microglia</text>
<text transform="translate(312.2,830) rotate(-90)" fill="#2a43f5">RPE</text>
<text transform="translate(322.3,830) rotate(-90)" fill="#f99a1c">RPE</text>
</g>

<!-- ================= PANEL F ================= -->
<text x="515" y="569" font-size="11" font-weight="bold" fill="#000">f</text>
<g font-size="9.5" fill="#222" text-anchor="middle"><text x="636" y="585">scRNA: 5,473</text><text x="782" y="585">snRNA: 1,815</text></g>
<!-- dense red left -->
<path d="M654,597 L699,597 L699,793.7 L692,793 L682,788 L672,781 L663,770 L656,756 L651,740 L649,715 L651,690 L650,660 L649,635 L651,612 Z" fill="#ea0d0d"/>
<rect x="655" y="596" width="40" height="3.5" fill="#ee0000"/>
<!-- dense red right -->
<path d="M735,640 L739,652 L740,672 L742,700 L747,718 L760,735 L776,758 L787,778 L780,791 L765,794 L735,794 Z" fill="#ea0d0d"/>
<!-- blue -->
<path d="M699,642 L701,660 L703,685 L706,712 L708,735 L711,755 L713,768 L716,788 L718,794 L699,794 Z" fill="#4169e1"/>
<path d="M735,615 L734.5,650 L732.5,685 L730,712 L728,735 L725,755 L723,768 L720,786 L718,794 L735,794 Z" fill="#4169e1"/>
<ellipse cx="717" cy="793.5" rx="15" ry="2" fill="#444"/>
<g fill="#f02424" fill-opacity=".75">
<circle cx="645" cy="598" r="1.8"/><circle cx="649" cy="598" r="1.8"/><circle cx="652" cy="598" r="1.8"/>
<circle cx="647.7" cy="607.7" r="1.7"/><circle cx="645.7" cy="615.7" r="1.7"/><circle cx="644" cy="626.7" r="1.7"/><circle cx="640" cy="633" r="1.7"/><circle cx="630.7" cy="649" r="1.7"/>
<circle cx="642.7" cy="662" r="1.7"/><circle cx="625" cy="673" r="1.7"/><circle cx="620.7" cy="691.7" r="1.7"/><circle cx="620" cy="699" r="1.7"/><circle cx="635" cy="709" r="1.7"/>
<circle cx="623" cy="716.7" r="1.7"/><circle cx="631.7" cy="720" r="1.7"/><circle cx="607.7" cy="727.7" r="1.7"/><circle cx="611.7" cy="746.7" r="1.7"/><circle cx="620" cy="742" r="1.7"/>
<circle cx="625" cy="742" r="1.7"/><circle cx="637.7" cy="748" r="1.7"/><circle cx="634.3" cy="760" r="1.7"/><circle cx="642.3" cy="751" r="1.7"/><circle cx="613.3" cy="771.7" r="1.7"/>
<circle cx="613.3" cy="774.5" r="1.7"/><circle cx="578.3" cy="745" r="1.7"/><circle cx="639" cy="731.7" r="1.7"/><circle cx="644.3" cy="718" r="1.7"/><circle cx="641" cy="701.7" r="1.7"/>
<circle cx="646.3" cy="688" r="1.7"/><circle cx="644.3" cy="726.7" r="1.7"/><circle cx="651.7" cy="765" r="1.7"/><circle cx="656.7" cy="775" r="1.7"/><circle cx="648.3" cy="741.7" r="1.7"/>
<circle cx="636" cy="726.7" r="1.7"/><circle cx="630" cy="733.3" r="1.7"/><circle cx="646" cy="676" r="1.7"/><circle cx="647" cy="645" r="1.7"/><circle cx="639" cy="680" r="1.7"/>
<circle cx="739" cy="613" r="1.7"/><circle cx="736.7" cy="626.7" r="1.7"/><circle cx="744.3" cy="628.3" r="1.7"/><circle cx="744.3" cy="645" r="1.7"/><circle cx="756.7" cy="656.7" r="1.7"/>
<circle cx="759" cy="649" r="1.7"/><circle cx="747.7" cy="661.7" r="1.7"/><circle cx="768.3" cy="678.3" r="1.7"/><circle cx="786.7" cy="678.3" r="1.7"/><circle cx="798.3" cy="685" r="1.7"/>
<circle cx="772.3" cy="695" r="1.7"/><circle cx="781.7" cy="698.3" r="1.7"/><circle cx="784.3" cy="698.3" r="1.7"/><circle cx="775" cy="711.7" r="1.7"/><circle cx="784.3" cy="706.7" r="1.7"/>
<circle cx="788.3" cy="715" r="1.7"/><circle cx="797.7" cy="726.7" r="1.7"/><circle cx="793.3" cy="721.7" r="1.7"/><circle cx="783.3" cy="721.7" r="1.7"/><circle cx="768.3" cy="715" r="1.7"/>
<circle cx="765" cy="726.7" r="1.7"/><circle cx="763.3" cy="736.7" r="1.7"/><circle cx="771.7" cy="731.7" r="1.7"/><circle cx="778.3" cy="728.3" r="1.7"/><circle cx="783.3" cy="738.3" r="1.7"/>
<circle cx="788.3" cy="745" r="1.7"/><circle cx="785" cy="755" r="1.7"/><circle cx="778.3" cy="758.3" r="1.7"/><circle cx="755" cy="731.7" r="1.7"/><circle cx="760" cy="745" r="1.7"/>
<circle cx="768.3" cy="751.7" r="1.7"/><circle cx="748.3" cy="718.3" r="1.7"/><circle cx="753.3" cy="705" r="1.7"/><circle cx="743.3" cy="698.3" r="1.7"/><circle cx="741" cy="685" r="1.7"/>
<circle cx="793.3" cy="735" r="1.7"/><circle cx="765" cy="785" r="1.7"/><circle cx="775" cy="776.7" r="1.7"/><circle cx="768.3" cy="761.7" r="1.7"/><circle cx="790" cy="765" r="1.7"/>
<circle cx="795" cy="748" r="1.7"/><circle cx="776" cy="745" r="1.7"/><circle cx="770" cy="740" r="1.7"/><circle cx="760" cy="725" r="1.7"/><circle cx="752" cy="712" r="1.7"/>
</g>
<g fill="#4169e1" fill-opacity=".75">
<circle cx="701" cy="648" r="1.6"/><circle cx="701.7" cy="661.7" r="1.6"/><circle cx="703.7" cy="678" r="1.6"/><circle cx="705.7" cy="700" r="1.6"/>
<circle cx="734.3" cy="651.7" r="1.6"/><circle cx="733" cy="675" r="1.6"/><circle cx="731" cy="696.7" r="1.6"/><circle cx="733.5" cy="626.7" r="1.6"/>
</g>
<g stroke="#333" stroke-width="1" stroke-dasharray="4,3" fill="none">
<line x1="567" y1="793.7" x2="808" y2="793.7"/>
<line x1="699.3" y1="588" x2="699.3" y2="805"/>
<line x1="735.3" y1="588" x2="735.3" y2="805"/>
</g>
<g stroke="#9a9a9a" stroke-width="1.2" fill="none"><path d="M567,588 V805 H808"/></g>
<g stroke="#9a9a9a" stroke-width="1"><path d="M563,597.7h4M563,663h4M563,728.3h4M563,793.7h4M627.7,805v4M717.3,805v4M807,805v4"/></g>
<g font-size="8.8" fill="#222" text-anchor="end">
<text x="561" y="601">300</text><text x="561" y="666">200</text><text x="561" y="731.5">100</text><text x="561" y="797">0</text>
</g>
<g font-size="8.8" fill="#222" text-anchor="middle">
<text x="627.7" y="820">-5</text><text x="717.3" y="820">0</text><text x="807" y="820">5</text>
</g>
<text x="711" y="834" font-size="9.5" fill="#222" text-anchor="middle">log<tspan font-size="6.5" dy="2.5">2</tspan><tspan dy="-2.5">(FC)</tspan></text>
<text transform="translate(533,693) rotate(-90)" font-size="9.5" fill="#222" text-anchor="middle">-log<tspan font-size="6.5" dy="2.5">10</tspan><tspan dy="-2.5">Q</tspan></text>
<g font-size="8" font-style="italic" fill="#222">
<g text-anchor="end">
<text x="620" y="620">RPS8</text><text x="620" y="632">RPS17</text><text x="611" y="651">RPS6</text><text x="612" y="662">RPL7</text>
<text x="611" y="674">RPS25</text><text x="612" y="688">RPS14</text><text x="616" y="699">RPS15</text><text x="618" y="711">RPS13</text>
</g>
<text x="742" y="676">CLDN20</text><text x="778" y="695">CLDN18</text><text x="787" y="788">PCDHGB5</text>
</g>
<g stroke="#111" stroke-width=".7" marker-end="url(#ah)">
<line x1="622" y1="618" x2="650" y2="632"/><line x1="622" y1="630" x2="639" y2="633"/><line x1="613" y1="650" x2="647" y2="658"/><line x1="614" y1="660" x2="639" y2="663"/>
<line x1="613" y1="672" x2="652" y2="668"/><line x1="614" y1="686" x2="652" y2="672"/><line x1="618" y1="697" x2="648" y2="681"/><line x1="620" y1="708" x2="648" y2="686"/>
<line x1="760" y1="679" x2="766" y2="723"/><line x1="790" y1="704" x2="780" y2="739"/><line x1="803" y1="777" x2="763" y2="768"/>
</g>
<g>
<circle cx="614" cy="850" r="6" fill="#999"/><circle cx="668" cy="850" r="6" fill="#8fcc8f"/><circle cx="735" cy="850" r="6" fill="#9fb2ef"/><circle cx="809" cy="850" r="6" fill="#f07878"/>
</g>
<g font-size="8.3" fill="#222">
<text x="625" y="853">NS</text>
<text x="680" y="853">log<tspan font-size="5.5" dy="2">2</tspan><tspan dy="-2">(FC)</tspan></text>
<text x="745" y="853"><tspan font-style="italic">q</tspan> value</text>
<text x="820" y="853">DEG</text>
</g>
</svg>
</body></html>
